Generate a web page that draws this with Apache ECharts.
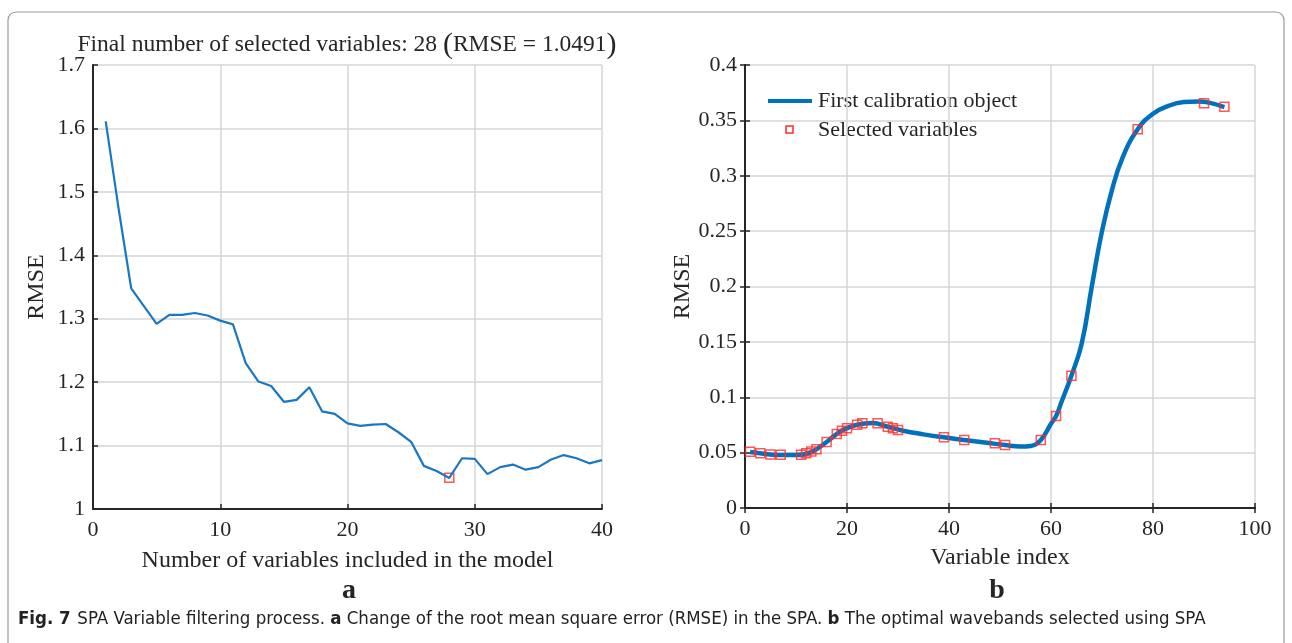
<!DOCTYPE html>
<html>
<head>
<meta charset="utf-8">
<script src="https://cdn.jsdelivr.net/npm/echarts@6/dist/echarts.min.js"></script>
<style>
  html, body { margin: 0; padding: 0; background: #fff; }
  #chart { width: 1292px; height: 643px; }
</style>
</head>
<body>
<div id="chart"></div>
<script>
// panel a: RMSE vs number of variables
var nVars = [1,2,3,4,5,6,7,8,9,10,11,12,13,14,15,16,17,18,19,20,21,22,23,24,25,26,27,28,29,30,31,32,33,34,35,36,37,38,39,40];
var rmseA = [1.611,1.475,1.348,1.320,1.292,1.306,1.306,1.309,1.305,1.297,1.291,1.230,1.201,1.194,1.169,1.172,1.192,1.154,1.150,1.135,
             1.131,1.133,1.134,1.121,1.106,1.068,1.060,1.049,1.080,1.079,1.055,1.066,1.070,1.062,1.066,1.078,1.085,1.080,1.072,1.077];
var bestN = [28];
var bestRmse = [1.0491];

// panel b: calibration object curve and selected variables
var curveIdx = [1,4,7,10,13,16,19,22,25,28,31,35,39,43,47,51,54,56,58,60,61,62,64,66,68,70,72,74,77,80,83,86,89,91,94];
var curveVal = [0.0505,0.0488,0.0478,0.0478,0.0505,0.0596,0.0700,0.0752,0.0768,0.0734,0.0698,0.0665,0.0638,0.0614,0.0592,0.0568,0.0555,0.0560,0.0614,0.0760,
                0.0830,0.0950,0.1195,0.1480,0.2000,0.2500,0.2880,0.3160,0.3420,0.3560,0.3630,0.3665,0.3670,0.3660,0.3620];
var selIdx = [1,3,5,7,11,12,13,14,16,18,19,20,22,23,26,28,29,30,39,43,49,51,58,61,64,77,90,94];
var selVal = [0.0509,0.0494,0.0482,0.0480,0.0480,0.0494,0.0510,0.0530,0.0596,0.0668,0.0698,0.0720,0.0752,0.0765,0.0765,0.0734,0.0720,0.0704,
              0.0638,0.0614,0.0584,0.0569,0.0614,0.0830,0.1195,0.3420,0.3654,0.3624];

var serif = '"Liberation Serif", "DejaVu Serif", serif';
var sans = '"Liberation Sans Narrow", "DejaVu Sans Condensed", sans-serif';
var ink = '#262626';
var blue = '#0072BD';
var red = '#ff2a2a';

function zip(a, b) {
    return a.map(function (v, i) { return [v, b[i]]; });
}

var axisLine = { show: true, lineStyle: { color: ink, width: 2 } };
var tick = { show: true, inside: true, length: 5, lineStyle: { color: ink, width: 1.5 } };
var grid = { show: true, lineStyle: { color: '#d6d6d6', width: 1.5 } };
var label = { color: ink, fontFamily: serif, fontSize: 22 };
var nameStyle = { color: ink, fontFamily: serif, fontSize: 24 };

var chart = echarts.init(document.getElementById('chart'));
var option = {
    backgroundColor: '#fff',
    animation: false,
    grid: [
        { left: 93, top: 65, width: 509, height: 444 },
        { left: 745, top: 65, width: 510, height: 443 }
    ],
    xAxis: [
        {
            gridIndex: 0, type: 'value', min: 0, max: 40, interval: 10,
            name: 'Number of variables included in the model', nameLocation: 'middle', nameGap: 40,
            nameTextStyle: nameStyle,
            axisLine: axisLine, axisTick: tick, splitLine: grid,
            axisLabel: Object.assign({ margin: 10 }, label)
        },
        {
            gridIndex: 1, type: 'value', min: 0, max: 100, interval: 20,
            name: 'Variable index', nameLocation: 'middle', nameGap: 38,
            nameTextStyle: nameStyle,
            axisLine: axisLine, axisTick: tick, splitLine: grid,
            axisLabel: Object.assign({ margin: 10 }, label)
        },
        {
            gridIndex: 1, type: 'value', min: 0, max: 100, interval: 20, position: 'top',
            axisLine: axisLine, axisTick: tick, splitLine: { show: false }, axisLabel: { show: false }
        }
    ],
    yAxis: [
        {
            gridIndex: 0, type: 'value', min: 1, max: 1.7, interval: 0.1,
            name: 'RMSE', nameLocation: 'middle', nameGap: 44,
            nameTextStyle: nameStyle,
            axisLine: axisLine, axisTick: tick, splitLine: grid,
            axisLabel: Object.assign({ margin: 8 }, label)
        },
        {
            gridIndex: 1, type: 'value', min: 0, max: 0.4, interval: 0.05,
            name: 'RMSE', nameLocation: 'middle', nameGap: 45,
            nameTextStyle: nameStyle,
            axisLine: axisLine, axisTick: tick, splitLine: grid,
            axisLabel: Object.assign({ margin: 8 }, label)
        },
        {
            gridIndex: 1, type: 'value', min: 0, max: 0.4, interval: 0.05, position: 'right',
            axisLine: axisLine, axisTick: tick, splitLine: { show: false }, axisLabel: { show: false }
        }
    ],
    series: [
        {
            type: 'line', name: 'RMSE', xAxisIndex: 0, yAxisIndex: 0,
            data: zip(nVars, rmseA), symbol: 'none',
            lineStyle: { color: '#1a78c2', width: 2.2 }
        },
        {
            type: 'scatter', name: 'best', xAxisIndex: 0, yAxisIndex: 0,
            data: zip(bestN, bestRmse), symbol: 'rect', symbolSize: 9,
            itemStyle: { color: 'transparent', borderColor: red, borderWidth: 1.5 }
        },
        {
            type: 'line', name: 'First calibration object', xAxisIndex: 1, yAxisIndex: 1,
            data: zip(curveIdx, curveVal), symbol: 'none', smooth: 0.45,
            lineStyle: { color: blue, width: 4.5 }
        },
        {
            type: 'scatter', name: 'Selected variables', xAxisIndex: 1, yAxisIndex: 1,
            data: zip(selIdx, selVal), symbol: 'rect', symbolSize: 9,
            itemStyle: { color: 'transparent', borderColor: red, borderWidth: 1.5 },
            z: 5
        }
    ],
    graphic: [
        {
            type: 'rect', silent: true, z: -1,
            shape: { x: 8, y: 12, width: 1276, height: 660, r: 8 },
            style: { fill: 'none', stroke: '#9a9a9a', lineWidth: 1.2 }
        },
        // legend of panel b
        {
            type: 'line', silent: true,
            shape: { x1: 768, y1: 101, x2: 812, y2: 101 },
            style: { stroke: blue, lineWidth: 4 }
        },
        {
            type: 'rect', silent: true,
            shape: { x: 786, y: 126, width: 7, height: 7 },
            style: { fill: 'none', stroke: red, lineWidth: 1.5 }
        },
        {
            type: 'text', x: 818, y: 101,
            style: { text: 'First calibration object', fontFamily: serif, fontSize: 22, fill: ink, textVerticalAlign: 'middle' }
        },
        {
            type: 'text', x: 818, y: 130,
            style: { text: 'Selected variables', fontFamily: serif, fontSize: 22, fill: ink, textVerticalAlign: 'middle' }
        },
        {
            type: 'text', x: 347, y: 45,
            style: {
                text: '{t|Final number of selected variables: 28 }{p|(}{t|RMSE = 1.0491}{p|)}',
                textAlign: 'center', textVerticalAlign: 'middle',
                rich: {
                    t: { fontFamily: serif, fontSize: 23.5, fill: ink },
                    p: { fontFamily: serif, fontSize: 30, fill: ink }
                }
            }
        },
        {
            type: 'text', x: 349, y: 591,
            style: { text: 'a', fontFamily: serif, fontSize: 28, fontWeight: 'bold', fill: ink, textAlign: 'center', textVerticalAlign: 'middle' }
        },
        {
            type: 'text', x: 997, y: 591,
            style: { text: 'b', fontFamily: serif, fontSize: 28, fontWeight: 'bold', fill: ink, textAlign: 'center', textVerticalAlign: 'middle' }
        },
        {
            type: 'text', left: 18, top: 610,
            style: {
                text: '{b|Fig. 7}  {n|SPA Variable filtering process. }{b|a}{n| Change of the root mean square error (RMSE) in the SPA. }{b|b}{n| The optimal wavebands selected using SPA}',
                rich: {
                    b: { fontFamily: sans, fontSize: 18.5, fontWeight: 'bold', fill: '#222' },
                    n: { fontFamily: sans, fontSize: 18.5, fill: '#222' }
                }
            }
        }
    ]
};
chart.setOption(option);
</script>
</body>
</html>
